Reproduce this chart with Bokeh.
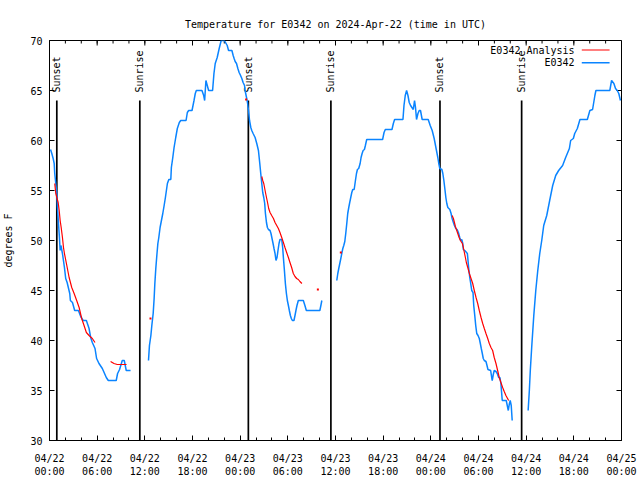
import math
from bokeh.plotting import figure
from bokeh.models import Range1d, FixedTicker
from bokeh.core.properties import value
from bokeh.embed import file_html
from bokeh.resources import INLINE

FONT = "DejaVu Sans Mono"
NAN = float("nan")

# hours since 2024-04-22 00:00 UTC
obs_hours = [
    0.13, 0.29, 0.46, 0.59, 0.66, 0.79, 0.92, 1.00, 1.13, 1.25, 1.34, 1.44, 1.63, 1.88, 2.04, 2.22,
    2.55, 2.63, 2.89, 3.17, 3.64, 3.93, 4.23, 4.64, 4.98, 5.18, 5.39, 5.73, 5.93, 6.23, 6.65, 7.15,
    7.40, 8.40, 8.57, 8.82, 9.16, 9.41, 9.66, 10.20, NAN,
    12.46, 12.58, 12.76, 12.88, 13.05, 13.17, 13.26, 13.38, 13.51, 13.64, 13.76, 13.92, 14.09, 14.26,
    14.43, 14.59, 14.84, 15.02, 15.27, 15.34, 15.52, 15.68, 15.89, 16.09, 16.34, 16.52, 17.19, 17.35,
    17.52, 17.94, 18.19, 18.35, 18.48, 19.19, 19.41, 19.53, 19.69, 19.86, 20.03, 20.53, 20.70, 20.86,
    21.11, 21.36, 21.61, 22.01, 22.37, 22.54, 22.96, 23.12, 23.24, 23.37, 23.54, 23.71, 23.87, 24.05,
    24.21, 24.37, 24.55, 24.62, 24.80, 24.92, 25.05, 25.18, 25.34, 25.46, 25.63, 25.88, 26.09, 26.30,
    26.47, 26.59, 26.72, 26.84, 26.97, 27.09, 27.18, 27.31, 27.43, 27.56, 27.76, 27.88, 28.01, 28.14,
    28.26, 28.39, 28.51, 28.64, 28.76, 28.89, 29.01, 29.23, 29.35, 29.44, 29.57, 29.69, 29.82, 29.94,
    30.07, 30.19, 30.32, 30.44, 30.57, 30.77, 30.90, 31.02, 31.15, 31.32, 31.95, 32.15, 32.33, 34.03,
    34.16, 34.28, NAN,
    36.16, 36.29, 36.41, 36.54, 36.67, 36.79, 36.92, 37.04, 37.17, 37.29, 37.42, 37.54, 37.67, 37.79,
    37.92, 38.05, 38.17, 38.35, 38.51, 38.64, 38.76, 38.92, 39.10, 39.22, 39.35, 39.48, 39.64, 39.76,
    39.93, 41.93, 42.11, 42.27, 43.11, 43.28, 43.44, 44.49, 44.62, 44.78, 44.95, 45.12, 45.28, 45.45,
    45.62, 45.79, 45.95, 46.07, 46.20, 46.38, 46.54, 46.70, 46.91, 47.67, 47.92, 48.17, 48.42, 48.71,
    48.88, 49.00, 49.13, 49.39, 49.51, 49.64, 49.76, 49.89, 50.01, 50.14, 50.39, 50.55, 50.68, 50.84,
    50.97, 51.14, 51.31, 51.47, 51.64, 51.77, 51.89, 52.02, 52.09, 52.27, 52.60, 52.68, 52.77, 52.90,
    53.02, 53.15, 53.31, 53.40, 53.53, 53.65, 53.78, 53.94, 54.10, 54.23, 54.35, 54.48, 54.60, 54.73,
    54.94, 55.07, 55.19, 55.53, 55.66, 55.73, 55.86, 55.98, 56.20, 56.36, 56.54, 56.70, 56.82, 56.91,
    56.99, 57.49, 57.62, 57.75, 57.87, 57.99, 58.12, 58.24, NAN,
    60.25, 60.40, 60.52, 60.71, 60.96, 61.21, 61.46, 61.71, 61.96, 62.21, 62.59, 62.96, 63.34, 63.72,
    64.09, 64.59, 64.97, 65.44, 65.60, 65.94, 66.11, 66.44, 66.77, 67.70, 68.02, 68.36, 68.65, 68.78,
    70.53, 70.75, 71.04, 71.25, 71.46, 71.66, 71.87,
]
obs_temp = [
    59.1, 58.7, 58.2, 57.7, 56.7, 55.7, 54.7, 53.3, 51.7, 50.3, 49.0, 49.5, 48.7, 47.3, 46.2, 45.8,
    44.7, 44.0, 43.8, 43.0, 43.0, 42.4, 42.0, 42.0, 41.2, 40.3, 39.8, 39.2, 38.2, 37.7, 37.2, 36.3,
    36.0, 36.0, 36.7, 37.1, 38.0, 38.0, 37.0, 37.0, NAN,
    38.0, 39.5, 40.5, 41.5, 42.7, 44.2, 45.7, 47.2, 48.5, 49.7, 50.3, 51.3, 52.0, 52.7,
    53.5, 54.3, 55.7, 56.1, 56.1, 57.3, 58.3, 59.3, 60.3, 61.2, 61.8, 62.0, 62.0, 62.8,
    63.0, 63.0, 64.0, 64.7, 65.0, 65.0, 64.5, 64.0, 66.0, 65.5, 65.0, 65.0, 66.7, 67.7,
    68.3, 69.2, 70.0, 70.0, 69.5, 69.0, 69.0, 68.5, 68.2, 67.9, 67.7, 67.2, 66.8, 66.5,
    66.2, 65.8, 65.5, 65.0, 64.3, 63.8, 63.0, 62.0, 61.3, 61.0, 60.7, 60.3, 59.7, 59.0,
    57.7, 56.7, 55.7, 54.8, 54.3, 53.7, 52.7, 51.8, 51.3, 51.1, 51.0, 50.7, 50.2, 49.7,
    49.2, 48.7, 48.0, 48.3, 49.0, 49.7, 50.1, 50.1, 49.3, 48.3, 47.0, 45.7, 44.7, 44.0,
    43.5, 43.0, 42.5, 42.2, 42.0, 42.0, 42.5, 43.0, 43.5, 44.0, 44.0, 43.5, 43.0, 43.0,
    43.5, 44.0, NAN,
    46.0, 46.7, 47.2, 47.7, 48.2, 48.7, 49.2, 49.5, 49.9, 50.7, 51.7, 52.7, 53.3, 53.8,
    54.3, 54.8, 55.1, 55.1, 56.0, 56.7, 57.1, 57.2, 57.7, 58.3, 58.7, 59.0, 59.1, 59.5,
    60.1, 60.1, 60.8, 61.1, 61.1, 61.7, 62.1, 62.1, 63.5, 64.5, 65.0, 64.5, 63.8, 63.5,
    63.3, 63.1, 64.0, 63.3, 62.1, 62.7, 63.0, 63.0, 62.1, 62.1, 61.5, 61.0, 60.2, 59.0,
    58.3, 57.7, 57.2, 57.1, 56.7, 56.0, 55.2, 54.3, 53.7, 53.3, 53.1, 52.7, 52.2, 51.8,
    51.5, 51.2, 51.1, 50.8, 50.3, 50.0, 50.1, 49.7, 49.1, 49.0, 48.7, 48.0, 47.2, 46.3,
    45.7, 45.0, 44.8, 43.5, 42.5, 41.5, 40.7, 40.5, 40.2, 39.7, 39.2, 38.7, 38.2, 38.0,
    37.9, 37.5, 37.1, 37.0, 36.3, 36.0, 36.6, 37.0, 36.9, 36.7, 36.3, 36.3, 35.7, 34.8,
    34.0, 34.0, 33.5, 33.0, 33.6, 34.0, 33.5, 32.0, NAN,
    33.0, 35.0, 37.0, 39.5, 42.5, 45.0, 47.0, 48.7, 50.0, 51.5, 52.5, 54.0, 55.5, 56.5,
    57.0, 57.5, 58.3, 59.2, 60.0, 60.2, 60.7, 61.2, 62.1, 62.1, 63.0, 63.1, 64.5, 65.0,
    65.0, 66.0, 65.7, 65.2, 65.0, 64.7, 64.0,
]

ana_hours = [
    0.66, 0.79, 1.09, 1.22, 1.34, 1.47, 1.63, 1.76, 1.88, 2.13, 2.47, 2.80, 3.10, 3.42, 3.73, 4.05,
    4.35, 4.64, 4.98, 5.39, 5.73, NAN,
    7.69, 8.12, 8.53, 9.16, 9.70, NAN,
    26.72, 26.84, 26.97, 27.09, 27.21, 27.34, 27.47, 27.59, 27.76, 27.97, 28.19, 28.39, 28.60, 28.81,
    29.01, 29.23, 29.44, 29.64, 29.85, 30.07, 30.27, 30.48, 30.69, 30.90, 31.11, 31.32, 31.52, 31.77, NAN,
    50.68, 50.84, 50.97, 51.09, 51.22, 51.39, 51.56, 51.72, 51.97, 52.09, 52.22, 52.35, 52.47, 52.65,
    52.85, 53.06, 53.27, 53.47, 53.69, 53.90, 54.10, 54.32, 54.53, 54.73, 54.94, 55.16, 55.36, 55.57,
    55.78, 55.98, 56.20, 56.41, 56.61, 56.82, 57.04, 57.24, 57.45, 57.66, 57.79,
]
ana_temp = [
    55.7, 54.7, 53.8, 53.0, 52.0, 51.3, 50.3, 49.3, 48.7, 47.7, 46.3, 45.3, 44.7, 44.0, 43.3, 42.2,
    41.5, 40.8, 40.5, 40.2, 39.8, NAN,
    37.9, 37.7, 37.6, 37.6, 37.6, NAN,
    56.4, 56.0, 55.7, 55.2, 54.7, 54.2, 53.7, 53.2, 52.8, 52.5, 52.2, 51.8, 51.5, 51.2,
    50.8, 50.3, 49.8, 49.3, 48.8, 48.3, 47.8, 47.3, 46.7, 46.4, 46.2, 46.1, 45.9, 45.7, NAN,
    52.5, 52.2, 51.8, 51.4, 51.1, 50.7, 50.3, 50.0, 49.7, 49.3, 48.8, 48.3, 47.8, 47.3,
    46.7, 46.2, 45.7, 45.0, 44.3, 43.7, 43.0, 42.3, 41.7, 41.2, 40.7, 40.2, 39.7, 39.3,
    39.0, 38.3, 37.7, 37.0, 36.3, 35.8, 35.3, 34.9, 34.5, 34.2, 34.0,
]
ana_pt_hours = [12.71, 24.75, 33.78, 36.67]
ana_pt_temp = [42.2, 64.1, 45.1, 48.8]

sun_hours = [0.92, 11.37, 25.03, 35.42, 49.15, 59.43]
sun_labels = ["Sunset", "Sunrise", "Sunset", "Sunrise", "Sunset", "Sunrise"]

x_ticks = [0, 6, 12, 18, 24, 30, 36, 42, 48, 54, 60, 66, 72]
x_tick_labels = ["04/22\n00:00", "04/22\n06:00", "04/22\n12:00", "04/22\n18:00",
                 "04/23\n00:00", "04/23\n06:00", "04/23\n12:00", "04/23\n18:00",
                 "04/24\n00:00", "04/24\n06:00", "04/24\n12:00", "04/24\n18:00",
                 "04/25\n00:00"]
x_minor = list(range(0, 73, 2))
y_ticks = [30, 35, 40, 45, 50, 55, 60, 65, 70]

TITLE = "Temperature for E0342 on 2024-Apr-22 (time in UTC)"
RED = "#ff0000"
BLUE = "#0a84ff"
X0, X1, Y0, Y1 = 0, 72, 30, 70

p = figure(width=640, height=480, output_backend="svg", toolbar_location=None,
           x_range=Range1d(X0, X1), y_range=Range1d(Y0, Y1),
           min_border_left=47, min_border_right=19, min_border_top=40, min_border_bottom=40,
           title=TITLE)
p.title.text_font = FONT
p.title.text_font_size = "10px"
p.title.text_font_style = "normal"
p.title.align = "center"
p.title.text_color = "black"
p.title.standoff = 22

p.xgrid.visible = False
p.ygrid.visible = False
p.outline_line_color = "black"
p.outline_line_alpha = 1
p.background_fill_color = "white"
p.border_fill_color = "white"

def style_axis(ax):
    ax.axis_line_color = "black"
    ax.major_tick_line_color = "black"
    ax.minor_tick_line_color = "black"
    ax.major_tick_in = 5
    ax.major_tick_out = 0
    ax.minor_tick_in = 3
    ax.minor_tick_out = 0
    ax.major_label_text_font = FONT
    ax.major_label_text_font_size = "10px"
    ax.major_label_text_color = "black"
    ax.axis_label_text_font = FONT
    ax.axis_label_text_font_size = "10px"
    ax.axis_label_text_font_style = "normal"
    ax.axis_label_text_color = "black"

xt = FixedTicker(ticks=x_ticks, minor_ticks=x_minor)
yt = FixedTicker(ticks=y_ticks, minor_ticks=[])

xa = p.xaxis[0]
xa.ticker = xt
xa.major_label_overrides = {t: l for t, l in zip(x_ticks, x_tick_labels)}
xa.major_label_standoff = 12
style_axis(xa)

ya = p.yaxis[0]
ya.ticker = yt
ya.axis_label = "degrees F"
ya.major_label_standoff = 7
ya.axis_label_standoff = 13
style_axis(ya)

# mirrored inward ticks on top and right borders (gnuplot style)
TOP_MAJ, TOP_MIN = 0.5, 0.3          # in degrees F (5px / 3px)
RIGHT_MAJ = 0.63                     # in hours (5px)
p.segment(x0=x_ticks, y0=[Y1] * len(x_ticks), x1=x_ticks, y1=[Y1 - TOP_MAJ] * len(x_ticks),
          line_color="black", line_width=1)
p.segment(x0=x_minor, y0=[Y1] * len(x_minor), x1=x_minor, y1=[Y1 - TOP_MIN] * len(x_minor),
          line_color="black", line_width=1)
p.segment(x0=[X1] * len(y_ticks), y0=y_ticks, x1=[X1 - RIGHT_MAJ] * len(y_ticks), y1=y_ticks,
          line_color="black", line_width=1)

# sunrise / sunset markers
p.segment(x0=sun_hours, y0=[Y0] * len(sun_hours), x1=sun_hours, y1=[64.0] * len(sun_hours),
          line_color="black", line_width=1.7)
p.text(x=sun_hours, y=[64.8] * len(sun_hours), text=sun_labels, angle=math.pi / 2,
       text_align="left", text_baseline="middle", text_font=value(FONT),
       text_font_size="10px", text_color="black")

# data
p.line(obs_hours, obs_temp, line_color=BLUE, line_width=1.5)
p.line(ana_hours, ana_temp, line_color=RED, line_width=1.2)
p.scatter(ana_pt_hours, ana_pt_temp, marker="square", size=2, fill_color=RED, line_color=None)

# legend (gnuplot style: label then sample)
p.text(x=[66.1, 66.1], y=[69.0, 67.8], text=["E0342 Analysis", "E0342"],
       text_align="right", text_baseline="middle", text_font=value(FONT),
       text_font_size="10px", text_color="black")
p.segment(x0=[67.0], y0=[69.05], x1=[70.5], y1=[69.05], line_color=RED, line_width=1.2)
p.segment(x0=[67.0], y0=[67.77], x1=[70.5], y1=[67.77], line_color=BLUE, line_width=1.5)

open("out.html", "w").write(file_html(p, INLINE))
